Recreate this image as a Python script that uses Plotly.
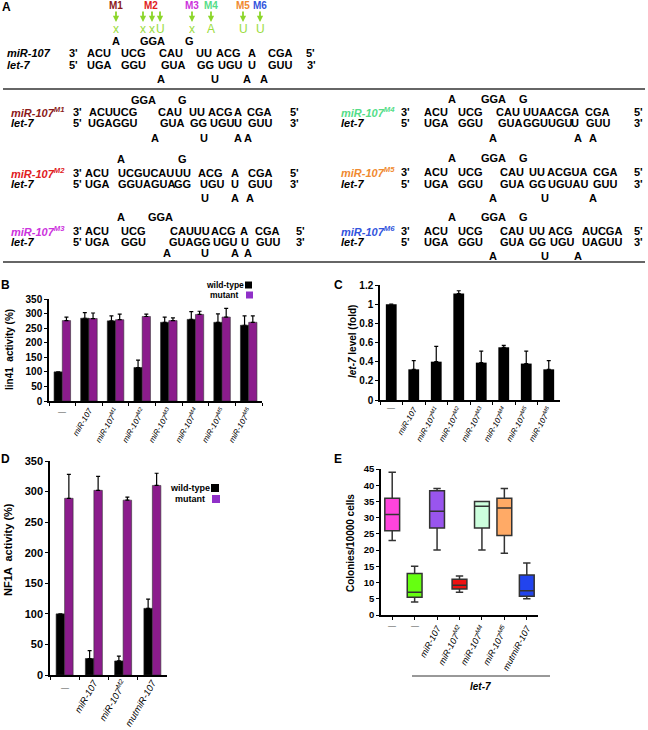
import plotly.graph_objects as go

W, H = 648, 730
FONT = "Arial, Liberation Sans, sans-serif"


def px(x):
    return x / W


def py(y):
    return 1 - y / H


# ---------------- Data ----------------
# Panel B (lin41 activity)
b_categories = ["ctrl", "miR-107", "M1", "M2", "M3", "M4", "M5", "M6"]
b_ticktext = ["", "miR-107", "miR-107<sup>M1</sup>", "miR-107<sup>M2</sup>", "miR-107<sup>M3</sup>",
              "miR-107<sup>M4</sup>", "miR-107<sup>M5</sup>", "miR-107<sup>M6</sup>"]
b_wild = [100, 284, 275, 115, 270, 280, 270, 260]
b_wild_err = [0, 19, 17, 25, 18, 27, 29, 32]
b_mut = [276, 283, 279, 290, 276, 297, 288, 270]
b_mut_err = [12, 19, 19, 8, 9, 11, 30, 22]

# Panel C (let-7 level)
c_categories = b_categories
c_values = [1.0, 0.32, 0.40, 1.11, 0.39, 0.55, 0.38, 0.32]
c_err = [0, 0.09, 0.16, 0.03, 0.12, 0.02, 0.13, 0.09]

# Panel D (NF1A activity)
d_categories = ["ctrl", "miR-107", "M2", "mut"]
d_ticktext = ["", "miR-107", "miR-107<sup>M2</sup>", "mutmiR-107"]
d_wild = [100, 27, 23, 109]
d_wild_err = [0, 13, 8, 15]
d_mut = [289, 302, 286, 310]
d_mut_err = [39, 23, 5, 20]

# Panel E (colonies)
e_categories = ["c1", "c2", "miR-107", "M2", "M4", "M5", "mut"]
e_ticktext = ["", "", "miR-107", "miR-107<sup>M2</sup>", "miR-107<sup>M4</sup>",
              "miR-107<sup>M5</sup>", "mutmiR-107"]
e_min = [23, 4, 20, 7, 20, 19, 5]
e_q1 = [26, 5.5, 26.8, 8, 26.8, 24.5, 5.8]
e_median = [31, 7, 32, 9.2, 33.5, 33, 7.5]
e_q3 = [36, 12.8, 38.3, 11, 35, 36, 12.3]
e_max = [44, 15, 39, 12, 35, 39, 16]
e_colors = ["#FF44DD", "#66FF11", "#9955EE", "#EE1111", "#CCFFDD", "#FFAA66", "#2244EE"]

BLACK = "#000000"
PURPLE = "#8B1C8C"
LEG_PURPLE = "#9030C8"

fig = go.Figure()


def err(arr):
    return dict(type="data", array=arr, arrayminus=[0] * len(arr), symmetric=False,
                color="black", thickness=1.2, width=2)


# Panel B bars
fig.add_trace(go.Bar(x=b_categories, y=b_wild, error_y=err(b_wild_err), width=0.31, offset=-0.31,
                     marker=dict(color=BLACK, line=dict(color="#222", width=0.6)),
                     xaxis="x", yaxis="y", showlegend=False))
fig.add_trace(go.Bar(x=b_categories, y=b_mut, error_y=err(b_mut_err), width=0.31, offset=0.0,
                     marker=dict(color=PURPLE, line=dict(color="#333", width=0.6)),
                     xaxis="x", yaxis="y", showlegend=False))
# Panel C bars
fig.add_trace(go.Bar(x=c_categories, y=c_values, error_y=err(c_err), width=0.48, offset=-0.24,
                     marker=dict(color=BLACK), xaxis="x2", yaxis="y2", showlegend=False))
# Panel D bars
fig.add_trace(go.Bar(x=d_categories, y=d_wild, error_y=err(d_wild_err), width=0.29, offset=-0.29,
                     marker=dict(color=BLACK, line=dict(color="#222", width=0.6)),
                     xaxis="x3", yaxis="y3", showlegend=False))
fig.add_trace(go.Bar(x=d_categories, y=d_mut, error_y=err(d_mut_err), width=0.29, offset=0.0,
                     marker=dict(color=PURPLE, line=dict(color="#333", width=0.6)),
                     xaxis="x3", yaxis="y3", showlegend=False))
# Panel E boxes
for i, cat in enumerate(e_categories):
    fig.add_trace(go.Box(x=[cat], q1=[e_q1[i]], median=[e_median[i]], q3=[e_q3[i]],
                         lowerfence=[e_min[i]], upperfence=[e_max[i]],
                         fillcolor=e_colors[i], line=dict(color="#333333", width=1.5),
                         width=0.66, whiskerwidth=0.5, boxpoints=False,
                         xaxis="x4", yaxis="y4", showlegend=False))

axis_common = dict(showline=True, linecolor="black", linewidth=1.5, ticks="outside",
                   ticklen=3, tickwidth=1.2, tickcolor="black", showgrid=False,
                   zeroline=False, automargin=False)

fig.update_layout(
    width=W, height=H, margin=dict(l=0, r=0, t=0, b=0),
    paper_bgcolor="white", plot_bgcolor="white", template="none",
    barmode="overlay", boxmode="overlay",
    font=dict(family=FONT, color="black"),
    xaxis=dict(domain=[px(49), px(262)], anchor="y", type="category",
               categoryorder="array", categoryarray=b_categories,
               tickvals=b_categories, ticktext=b_ticktext, tickson="boundaries",
               tickangle=-60, tickfont=dict(size=8, style="italic"),
               range=[-0.5, 7.5], **axis_common),
    yaxis=dict(domain=[py(401), py(299)], anchor="x", range=[0, 350], dtick=50,
               tickfont=dict(size=10, weight="bold"), **axis_common),
    xaxis2=dict(domain=[px(380), px(560)], anchor="y2", type="category",
                categoryorder="array", categoryarray=c_categories,
                tickvals=c_categories, ticktext=b_ticktext, tickson="boundaries",
                tickangle=-60, tickfont=dict(size=8, style="italic"),
                range=[-0.5, 7.5], **axis_common),
    yaxis2=dict(domain=[py(400), py(285)], anchor="x2", range=[0, 1.2], dtick=0.2,
                tickfont=dict(size=10, weight="bold"), **axis_common),
    xaxis3=dict(domain=[px(50), px(167)], anchor="y3", type="category",
                categoryorder="array", categoryarray=d_categories,
                tickvals=d_categories, ticktext=d_ticktext, tickson="boundaries",
                tickangle=-60, tickfont=dict(size=9.5, style="italic"),
                ticklabelstandoff=-3,
                range=[-0.5, 3.5], **axis_common),
    yaxis3=dict(domain=[py(675), py(461)], anchor="x3", range=[0, 350], dtick=50,
                tickfont=dict(size=11, weight="bold"), **axis_common),
    xaxis4=dict(domain=[px(381), px(538)], anchor="y4", type="category",
                categoryorder="array", categoryarray=e_categories,
                tickvals=e_categories, ticktext=e_ticktext,
                tickangle=-62, tickfont=dict(size=9, style="italic"),
                range=[-0.5, 6.5], **axis_common),
    yaxis4=dict(domain=[py(615), py(469)], anchor="x4", range=[0, 45], dtick=5,
                tickfont=dict(size=9.5, weight="bold"), **axis_common),
)

ann = []
shapes = []


def txt(x, y, s, size=11, color="black", bold=True, italic=False, xanchor="center", angle=0):
    ann.append(dict(x=px(x), y=py(y), xref="paper", yref="paper", text=s, showarrow=False,
                    xanchor=xanchor, yanchor="middle", textangle=angle, borderpad=0,
                    font=dict(family=FONT, size=size, color=color,
                              weight="bold" if bold else "normal",
                              style="italic" if italic else "normal")))


# ---------------- Panel A ----------------
txt(6, 7, "A", size=12)
m_labels = ["M1", "M2", "M3", "M4", "M5", "M6"]
m_colors = ["#8B1A1A", "#E0201E", "#CC33DD", "#55DD88", "#F08A30", "#3355DD"]
m_label_x = [116, 151, 192, 211, 243, 260]
for lab, col, x in zip(m_labels, m_colors, m_label_x):
    txt(x, 6, lab, size=10, color=col)
arrow_x = [116, 143, 152, 160, 192, 211, 243, 260]
mut_symbols = ["x", "x", "x", "U", "x", "A", "U", "U"]
for x, s in zip(arrow_x, mut_symbols):
    ann.append(dict(x=px(x), y=py(22), xref="paper", yref="paper", text="", showarrow=True,
                    ax=0, ay=-12, arrowhead=2, arrowsize=0.7, arrowwidth=1.8, arrowcolor="#8CD62B"))
    txt(x, 29, s, size=12, color="#9BDC3C", bold=False)


def block(label, label_color, label_x, ys, top, mir, let, bottom):
    y_top, y_mir, y_let, y_bot = ys
    for s, x in top:
        txt(x, y_top, s)
    txt(label_x, y_mir, label, color=label_color, italic=True, xanchor="left")
    txt(label_x, y_let, "let-7", italic=True, xanchor="left")
    for s, x in mir:
        txt(x, y_mir, s)
    for s, x in let:
        txt(x, y_let, s)
    for s, x in bottom:
        txt(x, y_bot, s)


# wild-type pairing
block("miR-107", "black", 6, (41, 53, 65, 79),
      [("A", 116), ("GGA", 152), ("G", 189)],
      [("3'", 73), ("ACU", 99), ("UCG", 133), ("CAU", 171), ("UU", 204), ("ACG", 228), ("A", 252), ("CGA", 280), ("5'", 310)],
      [("5'", 73), ("UGA", 99), ("GGU", 133), ("GUA", 173), ("GG", 205), ("UGU", 230), ("U", 252), ("GUU", 280), ("3'", 311)],
      [("A", 161), ("U", 215), ("A", 247), ("A", 264)])
# M1
block("miR-107<sup>M1</sup>", m_colors[0], 10, (100, 112, 123, 138),
      [("GGA", 143), ("G", 183)],
      [("3'", 77), ("ACUUCG", 113), ("CAU", 170), ("UU", 197), ("ACG", 220), ("A", 238), ("CGA", 259), ("5'", 294)],
      [("5'", 77), ("UGAGGU", 113), ("GUA", 172), ("GG", 198), ("UGU", 222), ("U", 238), ("GUU", 260), ("3'", 294)],
      [("A", 155), ("U", 204), ("A", 238), ("A", 248)])
# M2
block("miR-107<sup>M2</sup>", m_colors[1], 10, (159, 173, 184, 198),
      [("A", 121), ("G", 182)],
      [("3'", 77), ("ACU", 97), ("UCGUCAU", 146), ("UU", 183), ("ACG", 210), ("A", 235), ("CGA", 260), ("5'", 294)],
      [("5'", 77), ("UGA", 97), ("GGUAGUA", 147), ("GG", 183), ("UGU", 212), ("U", 235), ("GUU", 260), ("3'", 294)],
      [("U", 205), ("A", 235), ("A", 250)])
# M3
block("miR-107<sup>M3</sup>", m_colors[2], 10, (217, 231, 242, 253),
      [("A", 121), ("GGA", 160)],
      [("3'", 77), ("ACU", 97), ("UCG", 133), ("CAUUU", 190), ("ACG", 223), ("A", 244), ("CGA", 267), ("5'", 300)],
      [("5'", 77), ("UGA", 97), ("GGU", 133), ("GUAGG", 190), ("UGU", 225), ("U", 245), ("GUU", 268), ("3'", 300)],
      [("A", 167), ("U", 205), ("A", 235), ("A", 248)])
# M4
block("miR-107<sup>M4</sup>", m_colors[3], 340, (99, 112, 123, 138),
      [("A", 452), ("GGA", 493), ("G", 523)],
      [("3'", 405), ("ACU", 436), ("UCG", 470), ("CAU", 508), ("UUAACG", 547), ("A", 575), ("CGA", 597), ("5'", 638)],
      [("5'", 405), ("UGA", 436), ("GGU", 470), ("GUA", 510), ("GGUUGU", 548), ("U", 575), ("GUU", 598), ("3'", 638)],
      [("A", 493), ("A", 578), ("A", 593)])
# M5
block("miR-107<sup>M5</sup>", m_colors[4], 340, (158, 172, 184, 198),
      [("A", 452), ("GGA", 493), ("G", 523)],
      [("3'", 405), ("ACU", 436), ("UCG", 470), ("CAU", 512), ("UU", 537), ("ACGUA", 567), ("CGA", 605), ("5'", 638)],
      [("5'", 405), ("UGA", 436), ("GGU", 470), ("GUA", 512), ("GG", 537), ("UGUAU", 568), ("GUU", 605), ("3'", 638)],
      [("A", 493), ("U", 545), ("A", 593)])
# M6
block("miR-107<sup>M6</sup>", m_colors[5], 340, (217, 231, 242, 256),
      [("A", 452), ("GGA", 493), ("G", 523)],
      [("3'", 405), ("ACU", 436), ("UCG", 470), ("CAU", 512), ("UU", 537), ("ACG", 560), ("AUCGA", 602), ("5'", 638)],
      [("5'", 405), ("UGA", 436), ("GGU", 470), ("GUA", 512), ("GG", 537), ("UGU", 562), ("UAGUU", 602), ("3'", 638)],
      [("A", 493), ("U", 545), ("A", 578)])

for yline in (89, 262):
    shapes.append(dict(type="line", xref="paper", yref="paper", x0=px(3), x1=px(645),
                       y0=py(yline), y1=py(yline), line=dict(color="#333", width=1.5)))

# ---------------- Panel letters & titles ----------------
txt(5, 285, "B", size=12)
txt(338, 285, "C", size=12)
txt(5, 459, "D", size=12)
txt(338, 459, "E", size=12)

txt(10, 350, "lin41  activity (%)", size=10, angle=-90)
txt(352, 342, "<i>let-7</i> level (fold)", size=10, angle=-90)
txt(8, 550, "NF1A  activity (%)", size=11, angle=-90)
txt(350, 543, "Colonies/10000 cells", size=10, angle=-90)

# dash labels for control categories
for xa, cat, ypix in (("x", "ctrl", 411), ("x2", "ctrl", 407),
                      ("x3", "ctrl", 687), ("x4", "c1", 625), ("x4", "c2", 625)):
    ann.append(dict(x=cat, y=py(ypix), xref=xa, yref="paper", text="—", showarrow=False,
                    xanchor="center", yanchor="middle",
                    font=dict(family=FONT, size=8, color="#444")))


# legends
def legend(xr, y1, y2, size, sq):
    txt(xr, y1, "wild-type", size=size, xanchor="right")
    txt(xr - 5, y2, "mutant", size=size, xanchor="right")
    shapes.append(dict(type="rect", xref="paper", yref="paper", x0=px(xr), x1=px(xr + sq),
                       y0=py(y1 + sq / 2), y1=py(y1 - sq / 2), fillcolor=BLACK, line=dict(width=0)))
    shapes.append(dict(type="rect", xref="paper", yref="paper", x0=px(xr + 1), x1=px(xr + 1 + sq),
                       y0=py(y2 + sq / 2), y1=py(y2 - sq / 2), fillcolor=LEG_PURPLE, line=dict(width=0)))


legend(245, 285, 295, 8.5, 7)
legend(211, 488, 499, 9, 8)

# let-7 bracket under E
shapes.append(dict(type="line", xref="paper", yref="paper", x0=px(412), x1=px(550),
                   y0=py(676), y1=py(676), line=dict(color="#333", width=1)))
txt(480, 686, "let-7", size=10, italic=True)

fig.update_layout(annotations=ann, shapes=shapes)
fig.write_html("out.html", config={"displayModeBar": False},
               post_script="document.body.style.margin='0';")
